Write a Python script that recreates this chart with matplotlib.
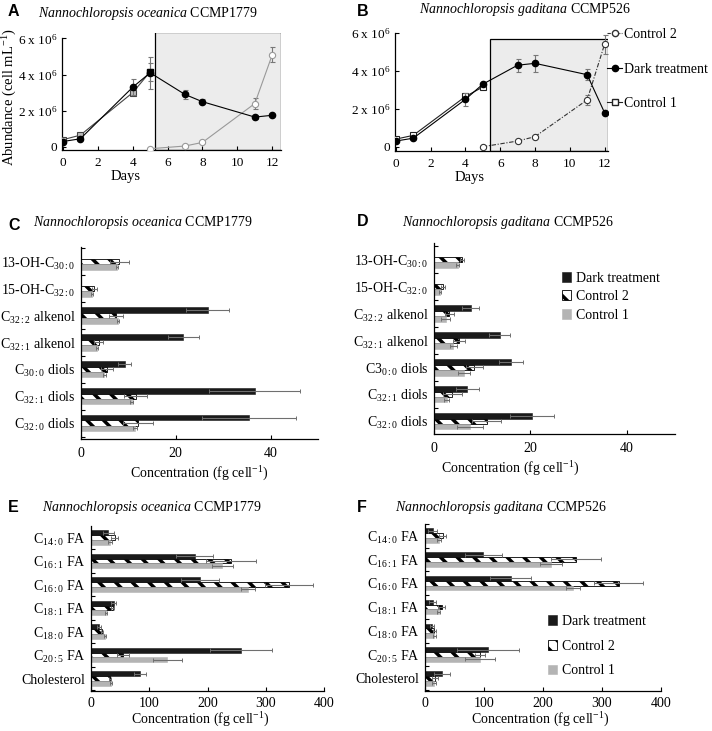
import numpy as np
import matplotlib
matplotlib.use("Agg")
import matplotlib.pyplot as plt
from matplotlib.patches import Rectangle
from matplotlib.lines import Line2D

plt.rcParams['font.family'] = ['Liberation Serif', 'DejaVu Serif']
plt.rcParams['mathtext.fontset'] = 'custom'
plt.rcParams['mathtext.rm'] = 'Liberation Serif'
plt.rcParams['mathtext.it'] = 'Liberation Serif:italic'
plt.rcParams['hatch.linewidth'] = 2.5
plt.rcParams['axes.linewidth'] = 0.9

# ─── growth curves (cells per mL, x 1e6) ─────────────────────────────────────
days_dark = [0, 1, 4, 5, 7, 8, 11, 12]
days_c1 = [0, 1, 4, 5]
days_c2 = [5, 7, 8, 11, 12]

oce_dark = [0.3, 0.45, 3.3, 4.1, 2.9, 2.5, 1.65, 1.75]
oce_dark_err = [0.05, 0.05, 0.45, 0.9, 0.25, 0.15, 0.12, 0.05]
oce_c1 = [0.4, 0.65, 3.0, 4.15]
oce_c1_err = [0.05, 0.05, 0.1, 0.5]
oce_c2 = [-0.1, 0.05, 0.25, 2.4, 5.1]
oce_c2_err = [0.02, 0.03, 0.05, 0.3, 0.4]

gad_dark = [0.3, 0.45, 2.5, 3.3, 4.3, 4.4, 3.8, 1.8]
gad_dark_err = [0.05, 0.05, 0.35, 0.1, 0.35, 0.45, 0.3, 0.05]
gad_c1 = [0.4, 0.6, 2.65, 3.15]
gad_c1_err = [0.05, 0.05, 0.1, 0.1]
gad_c2 = [0.0, 0.3, 0.53, 2.47, 5.4]
gad_c2_err = [0.02, 0.05, 0.05, 0.25, 0.5]

# ─── lipids (fg per cell) ────────────────────────────────────────────────────
lipid_labels = [r'13-OH-C$_{\mathrm{30{:}0}}$', r'15-OH-C$_{\mathrm{32{:}0}}$',
                r'C$_{\mathrm{32{:}2}}$ alkenol', r'C$_{\mathrm{32{:}1}}$ alkenol',
                r'C$_{\mathrm{30{:}0}}$ diols', r'C$_{\mathrm{32{:}1}}$ diols',
                r'C$_{\mathrm{32{:}0}}$ diols']
lipid_labels_d = [r'13-OH-C$_{\mathrm{30{:}0}}$', r'15-OH-C$_{\mathrm{32{:}0}}$',
                  r'C$_{\mathrm{32{:}2}}$ alkenol', r'C$_{\mathrm{32{:}1}}$ alkenol',
                  r'C3$_{\mathrm{0{:}0}}$ diols', r'C$_{\mathrm{32{:}1}}$ diols',
                  r'C$_{\mathrm{32{:}0}}$ diols']

oce_lip_dark = [0, 0, 26.7, 21.6, 9.2, 36.7, 35.5]
oce_lip_dark_err = [0, 0, 4.6, 3.2, 1.3, 9.6, 9.9]
oce_lip_c2 = [8.1, 2.8, 7.4, 3.7, 5.5, 11.5, 12.0]
oce_lip_c2_err = [2.0, 0.5, 1.5, 1.0, 1.3, 2.5, 3.2]
oce_lip_c1 = [7.6, 2.3, 7.8, 3.4, 4.9, 10.7, 11.4]
oce_lip_c1_err = [0.3, 0.2, 0.3, 0.2, 0.3, 0.3, 0.4]

gad_lip_dark = [0, 0, 7.6, 13.6, 16.0, 6.9, 20.3]
gad_lip_dark_err = [0, 0, 1.7, 2.2, 2.5, 2.4, 4.5]
gad_lip_c2 = [5.8, 1.9, 3.2, 5.2, 8.4, 3.8, 10.9]
gad_lip_c2_err = [0.5, 0.4, 0.9, 1.2, 1.7, 2.0, 3.0]
gad_lip_c1 = [4.9, 1.2, 2.4, 4.0, 6.2, 2.6, 7.4]
gad_lip_c1_err = [0.3, 0.2, 0.9, 0.7, 1.3, 0.5, 2.7]

# ─── fatty acids (fg per cell) ───────────────────────────────────────────────
fa_labels = [r'C$_{\mathrm{14{:}0}}$ FA', r'C$_{\mathrm{16{:}1}}$ FA', r'C$_{\mathrm{16{:}0}}$ FA',
             r'C$_{\mathrm{18{:}1}}$ FA', r'C$_{\mathrm{18{:}0}}$ FA', r'C$_{\mathrm{20{:}5}}$ FA',
             'Cholesterol']

oce_fa_dark = [30, 178, 187, 39, 14, 258, 84]
oce_fa_dark_err = [10, 32, 33, 4, 3, 53, 11]
oce_fa_c2 = [41, 240, 340, 37, 19, 55, 33]
oce_fa_c2_err = [6, 43, 41, 3, 2, 10, 2]
oce_fa_c1 = [33, 225, 270, 26, 24, 131, 34]
oce_fa_c1_err = [3, 18, 12, 2, 2, 25, 2]

gad_fa_dark = [13, 99, 145, 13, 12, 107, 29]
gad_fa_dark_err = [8, 32, 34, 6, 4, 53, 13]
gad_fa_c2 = [30, 256, 328, 28, 16, 93, 17]
gad_fa_c2_err = [6, 42, 41, 6, 2, 8, 5]
gad_fa_c1 = [24, 214, 251, 23, 16, 93, 15]
gad_fa_c1_err = [3, 19, 12, 2, 2, 25, 3]

W, H = 712, 731
fig = plt.figure(figsize=(W / 100, H / 100), dpi=100)


def fax(left, top, right, bottom):
    return fig.add_axes([left / W, 1 - bottom / H, (right - left) / W, (bottom - top) / H])


def growth(ax, dark, dark_err, c1, c1_err, c2, c2_err, xlim, ylim, box, gad=False):
    ax.add_patch(Rectangle((box[0], box[1]), box[2] - box[0], box[3] - box[1],
                           facecolor='#ececec', edgecolor='black', lw=0.9, zorder=0))
    ekw = dict(ecolor='#777777', elinewidth=0.8, capsize=1.8, capthick=0.8)
    if gad:
        ax.errorbar(days_c2, c2, yerr=c2_err, color='#333333', ls=(0, (4, 1.5, 1, 1.5)), lw=0.8,
                    marker='o', ms=4.5, mfc='white', mec='#333333', mew=0.8, zorder=3, **ekw)
        ax.errorbar(days_c1, c1, yerr=c1_err, color='#222222', lw=0.8,
                    marker='s', ms=4.5, mfc='white', mec='#222222', mew=0.8, zorder=3, **ekw)
    else:
        ax.errorbar(days_c2, c2, yerr=c2_err, color='#999999', lw=0.8,
                    marker='o', ms=4.5, mfc='white', mec='#999999', mew=0.8, zorder=3, **ekw)
        ax.errorbar(days_c1, c1, yerr=c1_err, color='#444444', lw=0.8,
                    marker='s', ms=4.5, mfc='#bbbbbb', mec='#444444', mew=0.8, zorder=3, **ekw)
    ax.errorbar(days_dark, dark, yerr=dark_err, color='black', lw=0.8,
                marker='o', ms=4.5, mfc='black', mec='black', zorder=4, **ekw)
    if not gad:
        ax.plot(days_c1[-1:], c1[-1:], 's', ms=5, color='black', zorder=5)
    ax.set_xlim(*xlim)
    ax.set_ylim(*ylim)
    ax.set_xticks([0, 2, 4, 6, 8, 10, 12])
    ax.set_yticks([0, 2, 4, 6])
    ax.set_yticklabels(['0', r'2 x 10$^{6}$', r'4 x 10$^{6}$', r'6 x 10$^{6}$'])
    ax.spines['top'].set_visible(False)
    ax.spines['right'].set_visible(False)
    ax.spines['left'].set_bounds(ylim[0], 6)
    ax.tick_params(direction='in', length=3, labelsize=9.5, width=0.8)
    ax.tick_params(axis='x', pad=5)
    ax.set_xlabel('Days', fontsize=10.5)


axA = fax(62, 33, 281, 150)
growth(axA, oce_dark, oce_dark_err, oce_c1, oce_c1_err, oce_c2, oce_c2_err,
       (-0.05, 12.5), (-0.17, 6.3), (5.3, -0.17, 12.5, 6.33))
axA.xaxis.set_label_coords(0.29, -0.175)
axA.set_ylabel(r'Abundance (cell mL$^{-1}$)', fontsize=10.5)
axA.yaxis.set_label_coords(-0.195, 0.45)

axB = fax(395, 33, 608, 150.7)
growth(axB, gad_dark, gad_dark_err, gad_c1, gad_c1_err, gad_c2, gad_c2_err,
       (-0.05, 12.2), (-0.21, 6.0), (5.4, -0.21, 12.2, 5.7), gad=True)
axB.xaxis.set_label_coords(0.35, -0.175)

handles = [Line2D([], [], color='#333333', ls=(0, (3, 1.2, 1, 1.2)), lw=0.8, marker='o', ms=4.5,
                  mfc='white', mec='#333333'),
           Line2D([], [], color='black', lw=0.8, marker='o', ms=4.5, mfc='black'),
           Line2D([], [], color='#222222', lw=0.8, marker='s', ms=4.5, mfc='white', mec='#222222')]
fig.legend(handles, ['Control 2', 'Dark treatment', 'Control 1'], loc='upper left',
           bbox_to_anchor=(607 / W, 1 - 28 / H), frameon=False, fontsize=10,
           handlelength=1.1, handletextpad=0.15, labelspacing=1.55, borderaxespad=0,
           borderpad=0)


def bars(ax, labels, dark, dark_err, c2, c2_err, c1, c1_err, xmax, xticks, ylim, xpad=6):
    n = len(labels)
    pos = np.arange(n)[::-1]
    h = 0.2
    ekw = dict(ecolor='#6f6f6f', elinewidth=0.8, capsize=1.6, capthick=0.7)
    ax.barh(pos + h, dark, height=h, color='#1a1a1a', edgecolor='#1a1a1a', lw=0.4,
            xerr=dark_err, error_kw=ekw, label='Dark treatment')
    ax.barh(pos, c2, height=h, color='white', edgecolor='black', lw=0.6, hatch='\\\\',
            xerr=c2_err, error_kw=ekw, label='Control 2')
    ax.barh(pos - h, c1, height=h, color='#b4b4b4', edgecolor='#b4b4b4', lw=0.4,
            xerr=c1_err, error_kw=ekw, label='Control 1')
    ax.set_yticks(pos)
    ax.set_yticklabels(labels)
    ax.set_yticks(np.arange(n + 1) - 0.5, minor=True)
    ax.tick_params(axis='y', which='major', length=0, labelsize=10, pad=4)
    ax.tick_params(axis='y', which='minor', direction='in', length=3, width=0.8)
    ax.set_xlim(0, xmax)
    ax.set_ylim(*ylim)
    ax.set_xticks(xticks)
    ax.tick_params(axis='x', direction='in', length=3, width=0.8, labelsize=10, pad=xpad)
    ax.spines['top'].set_visible(False)
    ax.spines['right'].set_visible(False)
    ax.set_xlabel(r'Concentration (fg cell$^{-1}$)', fontsize=10)


axC = fax(81, 247, 318, 438.7)
bars(axC, lipid_labels, oce_lip_dark, oce_lip_dark_err, oce_lip_c2, oce_lip_c2_err,
     oce_lip_c1, oce_lip_c1_err, 50, [0, 20, 40], (-0.58, 6.55))
axC.xaxis.set_label_coords(0.5, -0.135)

axD = fax(434, 243, 675, 434)
bars(axD, lipid_labels_d, gad_lip_dark, gad_lip_dark_err, gad_lip_c2, gad_lip_c2_err,
     gad_lip_c1, gad_lip_c1_err, 50, [0, 20, 40], (-0.47, 6.62))
axD.xaxis.set_label_coords(0.315, -0.135)
axD.legend(loc='upper left', bbox_to_anchor=(0.53, 0.85), frameon=False, fontsize=10,
           handlelength=0.7, handleheight=0.7, handletextpad=0.3, labelspacing=0.4,
           borderaxespad=0, borderpad=0)

axE = fax(91, 526, 324, 691)
bars(axE, fa_labels, oce_fa_dark, oce_fa_dark_err, oce_fa_c2, oce_fa_c2_err,
     oce_fa_c1, oce_fa_c1_err, 400, [0, 100, 200, 300, 400], (-0.53, 6.49), xpad=4)
axE.xaxis.set_label_coords(0.47, -0.12)

axF = fax(425, 523.5, 661, 691)
bars(axF, fa_labels, gad_fa_dark, gad_fa_dark_err, gad_fa_c2, gad_fa_c2_err,
     gad_fa_c1, gad_fa_c1_err, 400, [0, 100, 200, 300, 400], (-0.53, 6.51), xpad=4)
axF.xaxis.set_label_coords(0.49, -0.118)
axF.legend(loc='upper left', bbox_to_anchor=(0.52, 0.455), frameon=False, fontsize=10,
           handlelength=0.7, handleheight=0.7, handletextpad=0.3, labelspacing=0.85,
           borderaxespad=0, borderpad=0)

# titles and panel letters
titles = [(148, 13, r'$\it{Nannochloropsis\ oceanica}$ CCMP1779'),
          (525, 9, r'$\it{Nannochloropsis\ gaditana}$ CCMP526'),
          (143, 223, r'$\it{Nannochloropsis\ oceanica}$ CCMP1779'),
          (508, 223, r'$\it{Nannochloropsis\ gaditana}$ CCMP526'),
          (152, 508, r'$\it{Nannochloropsis\ oceanica}$ CCMP1779'),
          (501, 508, r'$\it{Nannochloropsis\ gaditana}$ CCMP526')]
for x, y, t in titles:
    fig.text(x / W, 1 - y / H, t, ha='center', va='center', fontsize=10)

letters = [(8, 12, 'A'), (357, 12, 'B'), (8, 225, 'C'), (357, 222, 'D'),
           (8, 508, 'E'), (357, 508, 'F')]
for x, y, t in letters:
    fig.text(x / W, 1 - y / H, t, ha='left', va='center', fontsize=11.5,
             fontweight='bold', family='Liberation Sans')

fig.savefig('out.png', dpi=100)
